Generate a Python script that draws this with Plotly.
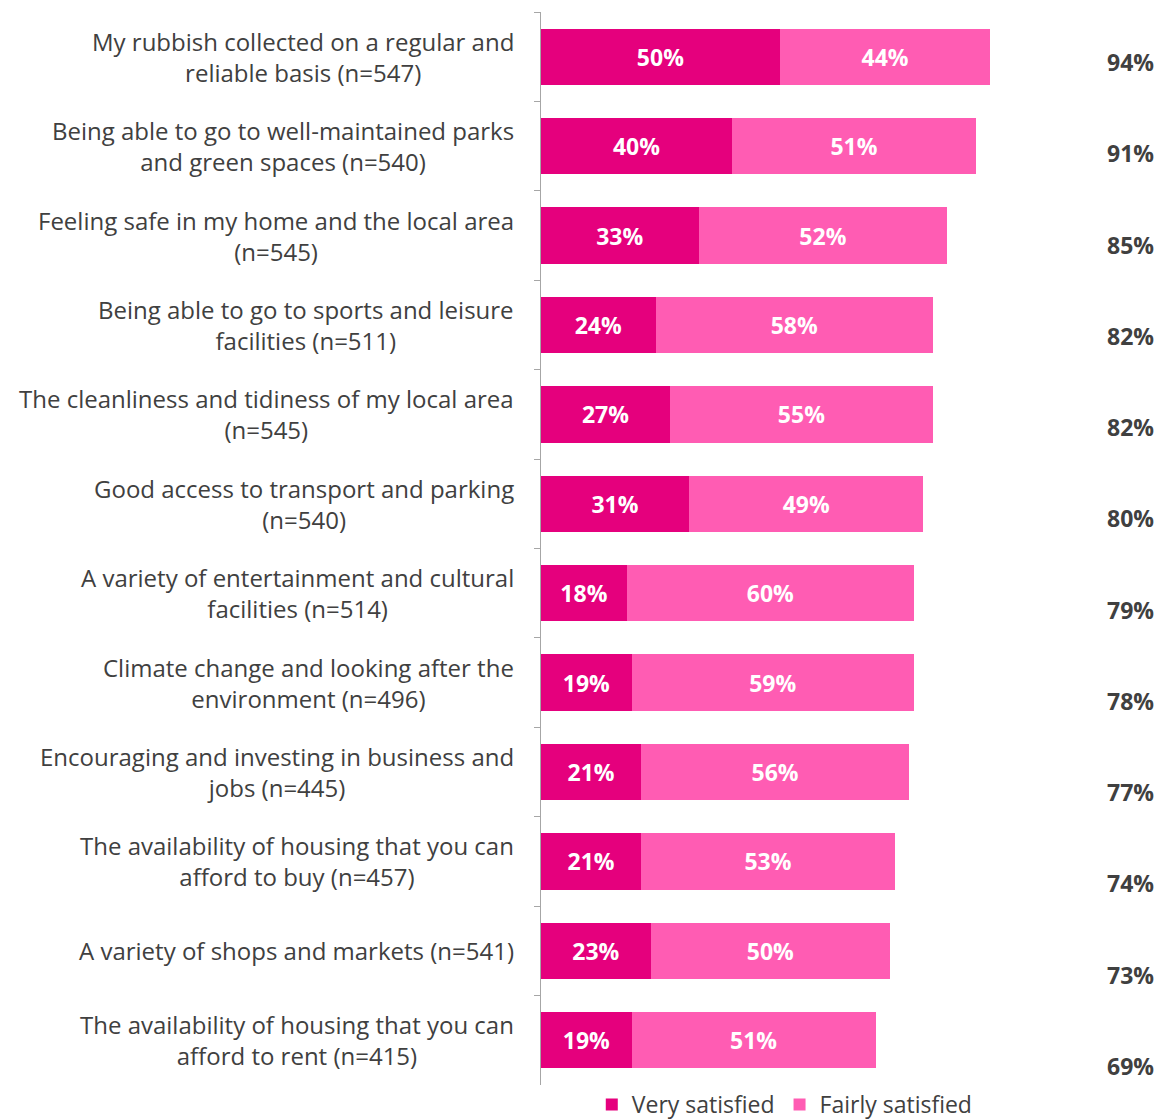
import plotly.graph_objects as go

# Survey results: share of residents satisfied with each local service
categories = [
    "My rubbish collected on a regular and<br>reliable basis (n=547)",
    "Being able to go to well-maintained parks<br>and green spaces (n=540)",
    "Feeling safe in my home and the local area<br>(n=545)",
    "Being able to go to sports and leisure<br>facilities (n=511)",
    "The cleanliness and tidiness of my local area<br>(n=545)",
    "Good access to transport and parking<br>(n=540)",
    "A variety of entertainment and cultural<br>facilities (n=514)",
    "Climate change and looking after the<br>environment (n=496)",
    "Encouraging and investing in business and<br>jobs (n=445)",
    "The availability of housing that you can<br>afford to buy (n=457)",
    "A variety of shops and markets (n=541)",
    "The availability of housing that you can<br>afford to rent (n=415)",
]
very_satisfied = [50, 40, 33, 24, 27, 31, 18, 19, 21, 21, 23, 19]
fairly_satisfied = [44, 51, 52, 58, 55, 49, 60, 59, 56, 53, 50, 51]
total_satisfied = [94, 91, 85, 82, 82, 80, 79, 78, 77, 74, 73, 69]

DARK_PINK = "#E5007D"
LIGHT_PINK = "#FF5CB3"
TEXT = "#404040"
FONT = "Open Sans"

fig = go.Figure()
for name, values, colour in [
    ("Very satisfied", very_satisfied, DARK_PINK),
    ("Fairly satisfied", fairly_satisfied, LIGHT_PINK),
]:
    fig.add_trace(go.Bar(
        name=name, y=categories, x=values, orientation="h",
        marker=dict(color=colour, line=dict(width=0)),
        text=[f"{v}%" for v in values], textposition="inside",
        insidetextanchor="middle",
        textfont=dict(family=FONT, size=23, color="white", weight="bold"),
    ))

annotations = []
# Category labels: right-aligned block, lines centred within it
for cat in categories:
    annotations.append(dict(
        xref="paper", yref="y", x=0, y=cat, xshift=-25,
        xanchor="right", yanchor="middle", align="center",
        text=cat, showarrow=False,
        font=dict(family=FONT, size=24, color=TEXT),
    ))
# Overall satisfaction totals in a column on the right
for i, (cat, tot) in enumerate(zip(categories, total_satisfied)):
    annotations.append(dict(
        xref="paper", yref="y", x=1.286, y=cat, yshift=-(5.3 + 1.85 * i),
        xanchor="right", yanchor="middle",
        text=f"<b>{tot}%</b>", showarrow=False,
        font=dict(family=FONT, size=23, color=TEXT),
    ))

fig.update_layout(
    width=1158, height=1119,
    margin=dict(l=541, r=139, t=12, b=34, autoexpand=False),
    barmode="stack", bargap=0.37,
    plot_bgcolor="white", paper_bgcolor="white",
    font=dict(family=FONT, color=TEXT),
    showlegend=True,
    legend=dict(
        orientation="h", x=0.51, xanchor="center",
        yref="container", y=0.013, yanchor="middle",
        font=dict(family=FONT, size=23, color=TEXT),
        itemwidth=30, traceorder="normal",
    ),
    annotations=annotations,
    xaxis=dict(range=[0, 100], visible=False, fixedrange=True),
    yaxis=dict(
        categoryorder="array", categoryarray=categories, autorange="reversed",
        showticklabels=False, showline=True, linecolor="#A6A6A6", linewidth=1,
        ticks="outside", tickson="boundaries", ticklen=6, tickcolor="#A6A6A6",
        showgrid=False, zeroline=False,
    ),
)

fig.write_html("out.html")
